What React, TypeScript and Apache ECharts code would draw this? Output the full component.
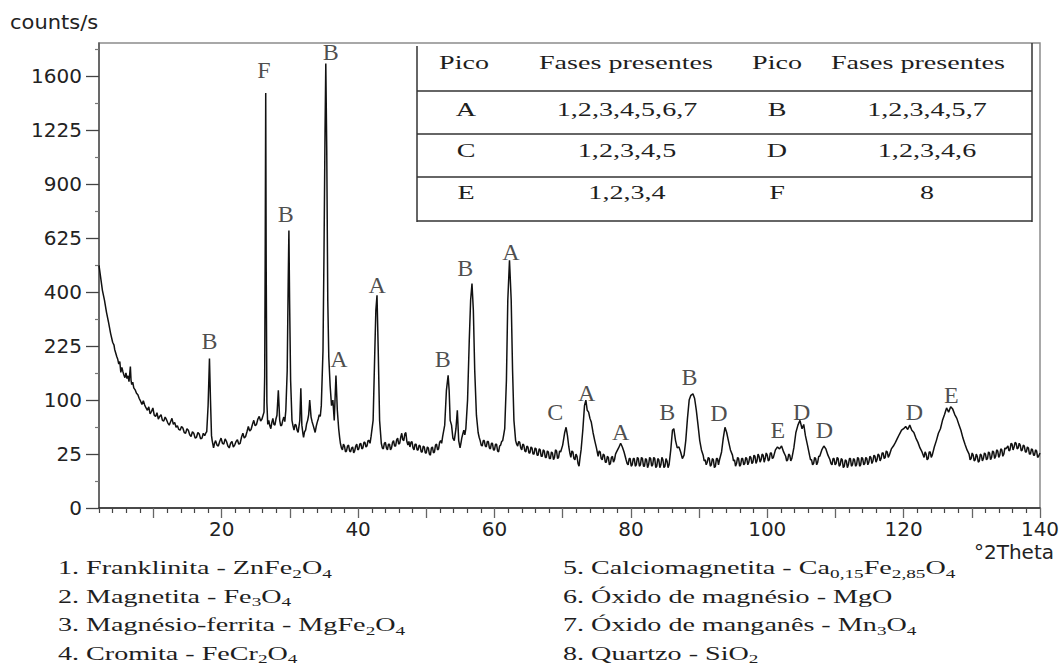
import React, { useEffect, useRef } from "react";
import * as echarts from "echarts";

// XRD trace: [°2Theta, counts/s]
const trace: [number, number][] = [
  [2.0,506],[2.2,465],[2.5,407],[2.8,371],[3.1,329],[3.4,296],[3.7,262],[4.0,236],[4.2,228],[4.3,216],[4.6,197],[4.75,190],[4.9,178],[5.05,184],[5.2,158],[5.35,170],[5.5,160],[5.65,152],[5.8,146],[5.95,157],[6.1,144],[6.25,150],[6.4,137],[6.6,172],[6.7,140],[6.8,131],[6.95,136],[7.1,124],[7.3,120],[7.5,113],[7.7,110],[7.9,103],[8.1,98],[8.3,92],[8.5,99],[8.7,91],[8.9,86],[9.1,82],[9.3,88],[9.5,76],[9.7,80],[9.9,86],[10.1,74],[10.3,72],[10.5,78],[10.7,68],[10.9,72],[11.1,75],[11.3,66],[11.5,65],[11.7,71],[11.9,67],[12.1,62],[12.3,59],[12.5,64],[12.7,69],[12.9,60],[13.1,63],[13.3,56],[13.5,58],[13.7,53],[13.9,52],[14.1,57],[14.3,55],[14.5,49],[14.7,48],[14.9,54],[15.1,52],[15.3,46],[15.5,44],[15.7,50],[15.9,48],[16.1,42],[16.3,43],[16.5,49],[16.7,47],[16.9,41],[17.1,42],[17.3,48],[17.5,45],[17.7,49],[17.8,50],[18.0,90],[18.2,192],[18.35,100],[18.5,45],[18.6,39],[18.8,31],[18.95,36],[19.1,39],[19.3,34],[19.5,33],[19.7,38],[19.9,42],[20.1,36],[20.3,35],[20.5,41],[20.7,38],[20.9,33],[21.1,31],[21.3,36],[21.5,38],[21.7,32],[21.9,34],[22.1,38],[22.3,40],[22.5,35],[22.7,36],[22.9,43],[23.1,48],[23.3,42],[23.5,44],[23.7,50],[23.9,57],[24.1,51],[24.3,53],[24.5,60],[24.7,66],[24.9,58],[25.1,60],[25.3,68],[25.5,72],[25.7,65],[25.9,68],[26.2,79],[26.3,150],[26.38,600],[26.45,1480],[26.52,500],[26.62,95],[26.75,60],[26.9,66],[27.05,58],[27.2,54],[27.35,63],[27.5,69],[27.65,60],[27.8,59],[27.95,68],[28.1,74],[28.3,119],[28.5,66],[28.65,58],[28.8,59],[28.95,66],[29.1,71],[29.25,64],[29.4,82],[29.6,162],[29.75,445],[29.85,662],[29.95,371],[30.1,140],[30.3,66],[30.45,58],[30.6,52],[30.75,60],[30.9,59],[31.05,52],[31.2,49],[31.45,66],[31.6,123],[31.75,59],[31.9,48],[32.0,43],[32.15,50],[32.3,52],[32.45,61],[32.6,66],[32.75,75],[32.9,100],[33.1,71],[33.25,64],[33.4,59],[33.55,54],[33.7,49],[33.85,57],[34.0,63],[34.15,68],[34.3,75],[34.45,72],[34.6,90],[34.85,213],[35.0,570],[35.15,1225],[35.26,1697],[35.4,1100],[35.55,371],[35.7,195],[35.9,128],[36.1,90],[36.3,100],[36.5,66],[36.75,151],[36.95,82],[37.15,54],[37.3,42],[37.4,36],[37.55,31],[37.7,29],[37.85,35],[38.0,33],[38.15,27],[38.3,28],[38.45,33],[38.6,34],[38.75,28],[38.9,27],[39.05,31],[39.2,32],[39.35,26],[39.5,28],[39.65,33],[39.8,35],[39.95,29],[40.1,30],[40.25,35],[40.4,36],[40.55,30],[40.7,31],[40.85,37],[41.0,37],[41.15,32],[41.3,33],[41.45,39],[41.6,39],[41.75,36],[41.9,44],[42.2,66],[42.45,213],[42.6,335],[42.77,389],[42.95,213],[43.15,66],[43.4,36],[43.55,31],[43.7,30],[43.85,36],[44.0,37],[44.15,31],[44.3,29],[44.45,35],[44.6,35],[44.75,29],[44.9,31],[45.05,37],[45.2,39],[45.35,33],[45.5,33],[45.65,40],[45.8,42],[45.95,35],[46.1,36],[46.25,43],[46.4,48],[46.55,40],[46.7,39],[46.85,47],[47.0,49],[47.15,38],[47.3,34],[47.45,38],[47.6,32],[47.75,37],[47.9,38],[48.05,31],[48.2,29],[48.35,35],[48.5,35],[48.65,29],[48.8,29],[48.95,34],[49.1,33],[49.25,27],[49.4,27],[49.55,33],[49.7,32],[49.85,26],[50.0,26],[50.15,32],[50.3,31],[50.45,25],[50.6,24],[50.75,31],[50.9,32],[51.05,26],[51.2,27],[51.35,34],[51.5,35],[51.65,29],[51.8,30],[51.95,37],[52.1,39],[52.25,36],[52.4,44],[52.7,59],[52.95,119],[53.2,151],[53.35,119],[53.5,66],[53.7,59],[53.9,42],[54.1,39],[54.35,54],[54.55,82],[54.75,39],[54.95,31],[55.1,37],[55.2,42],[55.35,47],[55.5,52],[55.65,46],[55.8,54],[56.05,100],[56.3,241],[56.5,371],[56.7,433],[56.9,335],[57.1,163],[57.35,74],[57.6,49],[57.75,43],[57.9,39],[58.05,34],[58.2,33],[58.35,39],[58.5,39],[58.65,33],[58.8,32],[58.95,38],[59.1,38],[59.25,31],[59.4,30],[59.55,36],[59.7,36],[59.85,29],[60.0,29],[60.15,35],[60.3,35],[60.45,28],[60.6,27],[60.75,33],[60.9,34],[61.05,38],[61.2,39],[61.35,46],[61.5,54],[61.75,140],[61.95,371],[62.2,527],[62.45,371],[62.65,163],[62.85,66],[63.1,39],[63.25,35],[63.4,33],[63.55,38],[63.7,37],[63.85,31],[64.0,29],[64.15,35],[64.3,34],[64.45,28],[64.6,27],[64.75,33],[64.9,32],[65.05,26],[65.2,26],[65.35,32],[65.5,31],[65.65,25],[65.8,25],[65.95,31],[66.1,30],[66.25,24],[66.4,24],[66.55,30],[66.7,29],[66.85,23],[67.0,23],[67.15,29],[67.3,28],[67.45,22],[67.6,22],[67.75,28],[67.9,27],[68.05,21],[68.2,21],[68.35,27],[68.5,26],[68.65,20],[68.8,22],[68.95,29],[69.1,28],[69.25,21],[69.4,22],[69.55,28],[69.7,27],[70.0,34],[70.3,49],[70.5,56],[70.7,45],[70.9,32],[71.05,26],[71.2,22],[71.35,28],[71.5,27],[71.65,21],[71.8,20],[71.95,25],[72.1,23],[72.25,17],[72.4,15],[72.55,22],[72.7,29],[72.95,52],[73.2,90],[73.4,100],[73.6,82],[73.8,79],[74.0,69],[74.2,63],[74.45,49],[74.7,39],[74.95,31],[75.1,26],[75.2,23],[75.35,28],[75.5,27],[75.65,21],[75.8,20],[75.95,25],[76.1,24],[76.25,18],[76.4,18],[76.55,23],[76.7,22],[76.85,16],[77.0,17],[77.15,22],[77.3,23],[77.45,18],[77.6,20],[77.75,25],[77.9,27],[78.2,31],[78.5,36],[78.75,32],[79.0,27],[79.3,20],[79.45,17],[79.6,16],[79.75,21],[79.9,21],[80.05,15],[80.2,16],[80.35,21],[80.5,21],[80.65,15],[80.8,16],[80.95,22],[81.1,21],[81.25,15],[81.4,16],[81.55,22],[81.7,21],[81.85,15],[82.0,15],[82.15,21],[82.3,20],[82.45,14],[82.6,16],[82.75,22],[82.9,21],[83.05,15],[83.2,16],[83.35,22],[83.5,21],[83.65,14],[83.8,15],[83.95,21],[84.1,20],[84.25,14],[84.4,16],[84.55,22],[84.7,20],[84.85,14],[85.0,15],[85.15,21],[85.3,19],[85.45,14],[85.6,16],[85.85,29],[86.1,52],[86.3,54],[86.55,39],[86.8,31],[87.05,32],[87.3,27],[87.55,21],[87.8,24],[88.05,39],[88.3,69],[88.55,100],[88.8,109],[89.1,112],[89.35,103],[89.6,82],[89.85,59],[90.1,39],[90.35,29],[90.6,24],[90.75,19],[90.9,20],[91.05,16],[91.2,18],[91.35,22],[91.5,21],[91.65,15],[91.8,16],[91.95,21],[92.1,20],[92.25,14],[92.4,15],[92.55,21],[92.7,21],[92.85,16],[93.0,20],[93.3,27],[93.55,42],[93.8,56],[94.05,49],[94.3,39],[94.6,29],[94.9,24],[95.05,19],[95.2,20],[95.35,15],[95.5,17],[95.65,22],[95.8,21],[95.95,15],[96.1,16],[96.25,21],[96.4,21],[96.55,16],[96.7,17],[96.85,22],[97.0,21],[97.15,16],[97.3,18],[97.45,23],[97.6,22],[97.75,17],[97.9,18],[98.05,24],[98.2,23],[98.35,17],[98.5,19],[98.65,25],[98.8,23],[98.95,18],[99.1,20],[99.25,25],[99.4,24],[99.55,18],[99.7,21],[99.85,26],[100.0,24],[100.15,19],[100.3,20],[100.45,26],[100.6,26],[100.75,21],[100.9,22],[101.2,29],[101.5,32],[101.8,30],[102.1,33],[102.4,27],[102.7,23],[102.85,19],[103.0,20],[103.15,25],[103.3,24],[103.45,19],[103.6,21],[103.9,31],[104.2,49],[104.5,59],[104.8,66],[105.1,54],[105.35,60],[105.6,45],[105.9,34],[106.2,24],[106.35,20],[106.5,20],[106.65,16],[106.8,17],[106.95,22],[107.1,21],[107.25,16],[107.4,18],[107.55,23],[107.7,23],[108.0,29],[108.3,33],[108.6,30],[108.9,24],[109.2,20],[109.35,17],[109.5,16],[109.65,21],[109.8,21],[109.95,16],[110.1,17],[110.25,22],[110.4,21],[110.55,15],[110.7,16],[110.85,21],[111.0,20],[111.15,14],[111.3,15],[111.45,20],[111.6,19],[111.75,14],[111.9,16],[112.05,21],[112.2,21],[112.35,15],[112.5,16],[112.65,21],[112.8,20],[112.95,15],[113.1,16],[113.25,22],[113.4,21],[113.55,15],[113.7,16],[113.85,22],[114.0,21],[114.15,16],[114.3,17],[114.45,22],[114.6,21],[114.75,16],[114.9,18],[115.05,23],[115.2,22],[115.35,17],[115.5,19],[115.65,24],[115.8,23],[115.95,18],[116.1,20],[116.25,25],[116.4,24],[116.55,19],[116.7,21],[116.85,26],[117.0,26],[117.15,21],[117.3,22],[117.45,28],[117.6,27],[117.75,22],[117.9,24],[118.2,30],[118.5,33],[118.8,37],[119.1,42],[119.4,47],[119.7,52],[120.0,54],[120.3,57],[120.6,53],[120.9,59],[121.2,52],[121.5,49],[121.8,42],[122.1,37],[122.4,31],[122.7,27],[123.0,22],[123.15,27],[123.3,25],[123.45,20],[123.6,21],[123.75,27],[123.9,27],[124.05,22],[124.2,24],[124.5,32],[124.8,39],[125.1,48],[125.4,54],[125.7,66],[126.0,75],[126.3,86],[126.6,79],[126.9,88],[127.2,84],[127.5,75],[127.8,69],[128.1,60],[128.4,52],[128.7,42],[129.0,35],[129.3,29],[129.6,25],[129.75,20],[129.9,21],[130.05,26],[130.2,24],[130.35,19],[130.5,20],[130.65,25],[130.8,23],[130.95,18],[131.1,19],[131.25,25],[131.4,24],[131.55,19],[131.7,21],[131.85,26],[132.0,25],[132.15,20],[132.3,21],[132.45,27],[132.6,26],[132.75,20],[132.9,22],[133.05,28],[133.2,27],[133.35,21],[133.5,23],[133.65,29],[133.8,28],[133.95,22],[134.1,24],[134.25,30],[134.4,29],[134.55,23],[134.7,25],[134.85,31],[135.0,30],[135.3,33],[135.45,28],[135.6,29],[135.75,36],[135.9,35],[136.05,29],[136.2,32],[136.35,37],[136.5,36],[136.65,30],[136.8,31],[136.95,36],[137.1,34],[137.25,28],[137.4,29],[137.55,34],[137.7,33],[137.85,27],[138.0,27],[138.15,32],[138.3,31],[138.45,25],[138.6,25],[138.75,30],[138.9,29],[139.05,24],[139.2,24],[139.35,29],[139.5,28],[139.65,22],[139.8,23],[140.0,26]
];

// peak letters: [letter, °2Theta, counts/s at label centre]
const peakLabels: [string, number, number][] = [
  ["B", 18.2, 241], ["F", 26.2, 1646], ["B", 29.4, 745], ["B", 36.0, 1786],
  ["A", 37.2, 192], ["A", 42.8, 426], ["B", 52.4, 192], ["B", 55.7, 494],
  ["A", 62.4, 563], ["C", 68.9, 79], ["A", 73.5, 113], ["A", 78.5, 50],
  ["B", 85.35, 79], ["B", 88.6, 147], ["D", 92.9, 77], ["E", 101.55, 52],
  ["D", 105.05, 79], ["D", 108.4, 52], ["D", 121.6, 79], ["E", 127.0, 109]
];

const yTickCounts = [0, 25, 100, 225, 400, 625, 900, 1225, 1600];
const yMinorCounts = [6.25, 56.25, 156.25, 306.25, 506.25, 756.25, 1056.25, 1406.25, 1806.25];
const xTickLabels = [20, 40, 60, 80, 100, 120, 140];
const xMajorTicks = [10, 20, 30, 40, 50, 60, 70, 80, 90, 100, 110, 120, 130, 140];
const xMinorTicks = [2, 4, 6, 8, 12, 14, 16, 18, 22, 24, 26, 28, 32, 34, 36, 38, 42, 44, 46, 48, 52, 54, 56, 58, 62, 64, 66, 68, 72, 74, 76, 78, 82, 84, 86, 88, 92, 94, 96, 98, 102, 104, 106, 108, 112, 114, 116, 118, 122, 124, 126, 128, 132, 134, 136, 138];

const tableHeader = ["Pico", "Fases presentes", "Pico", "Fases presentes"];
const tableRows = [
  ["A", "1,2,3,4,5,6,7", "B", "1,2,3,4,5,7"],
  ["C", "1,2,3,4,5", "D", "1,2,3,4,6"],
  ["E", "1,2,3,4", "F", "8"]
];

const phasesLeft = [
  "1. Franklinita - ZnFe{s|2}O{s|4}",
  "2. Magnetita - Fe{s|3}O{s|4}",
  "3. Magnésio-ferrita - MgFe{s|2}O{s|4}",
  "4. Cromita - FeCr{s|2}O{s|4}"
];
const phasesRight = [
  "5. Calciomagnetita - Ca{s|0,15}Fe{s|2,85}O{s|4}",
  "6. Óxido de magnésio - MgO",
  "7. Óxido de manganês - Mn{s|3}O{s|4}",
  "8. Quartzo - SiO{s|2}"
];

const SERIF = "Liberation Serif";
const SANS = "DejaVu Sans";
const SX = 1.48;

function serifText(x: number, y: number, text: string, align: string) {
  return {
    type: "text",
    x,
    y,
    scaleX: SX,
    silent: true,
    style: {
      text,
      fontFamily: SERIF,
      fontSize: 19,
      lineHeight: 20,
      fill: "#1e1e1e",
      align,
      verticalAlign: "middle",
      rich: {
        s: { fontFamily: SERIF, fontSize: 13, lineHeight: 24, verticalAlign: "bottom", fill: "#1e1e1e" }
      }
    }
  };
}

export default function App() {
  const ref = useRef<HTMLDivElement>(null);

  useEffect(() => {
    if (!ref.current) return;
    const chart = echarts.init(ref.current, undefined, { renderer: "svg" });

    const tableColX = [464, 626, 777, 918];
    const tableDataColX = [466, 627, 777, 927];
    const rowY = [110, 151, 193];
    const graphics: any[] = [
      { type: "text", x: 10, y: 22, scaleX: 1.05, silent: true, style: { text: "counts/s", fontFamily: SANS, fontSize: 20, fill: "#222", verticalAlign: "middle" } },
      { type: "text", x: 1054, y: 552, silent: true, style: { text: "°2Theta", fontFamily: SANS, fontSize: 20, fill: "#222", align: "right", verticalAlign: "middle" } },
      // table frame
      { type: "line", silent: true, shape: { x1: 417, y1: 46, x2: 417, y2: 222 }, style: { stroke: "#333", lineWidth: 1.5 } },
      { type: "line", silent: true, shape: { x1: 1032, y1: 43, x2: 1032, y2: 222 }, style: { stroke: "#333", lineWidth: 1.5 } },
      ...[91, 134, 177, 221].map((y) => ({ type: "line", silent: true, shape: { x1: 417, y1: y, x2: 1032, y2: y }, style: { stroke: "#333", lineWidth: 1.5 } }))
    ];
    tableHeader.forEach((t, i) => graphics.push(serifText(tableColX[i], 63, t, "center")));
    tableRows.forEach((row, r) => row.forEach((t, i) => graphics.push(serifText(tableDataColX[i], rowY[r], t, "center"))));
    phasesLeft.forEach((t, i) => graphics.push(serifText(58, 568 + i * 28.5, t, "left")));
    phasesRight.forEach((t, i) => graphics.push(serifText(563, 568 + i * 28.5, t, "left")));

    chart.setOption({
      animation: false,
      backgroundColor: "#ffffff",
      grid: { left: 99, right: 23, top: 43, bottom: 158, show: true, borderColor: "#8c8c8c", borderWidth: 1.5 },
      xAxis: [
        {
          type: "value", min: 2, max: 140, position: "bottom",
          axisLine: { show: true, lineStyle: { color: "#2a2a2a", width: 1.5 } },
          axisTick: { show: true, customValues: xMajorTicks, length: 10, lineStyle: { color: "#666", width: 1.3 } },
          axisLabel: { customValues: xTickLabels, margin: 11, fontFamily: SANS, fontSize: 20, color: "#222" },
          splitLine: { show: false }
        },
        {
          type: "value", min: 2, max: 140, position: "bottom",
          axisLine: { show: false },
          axisTick: { show: true, customValues: xMinorTicks, length: 5, lineStyle: { color: "#444", width: 1.2 } },
          axisLabel: { show: false },
          splitLine: { show: false }
        }
      ],
      yAxis: [
        {
          type: "value", min: 0, max: 43.1, position: "left",
          axisLine: { show: true, lineStyle: { color: "#555", width: 1.5 } },
          axisTick: { show: true, customValues: yTickCounts.map((c) => Math.sqrt(c)), length: 13, lineStyle: { color: "#444", width: 1.3 } },
          axisLabel: {
            customValues: yTickCounts.map((c) => Math.sqrt(c)),
            formatter: (v: number) => String(Math.round(v * v)),
            margin: 17, fontFamily: SANS, fontSize: 20, color: "#222"
          },
          splitLine: { show: false }
        },
        {
          type: "value", min: 0, max: 43.1, position: "left",
          axisLine: { show: false },
          axisTick: { show: true, customValues: yMinorCounts.map((c) => Math.sqrt(c)), length: 4, lineStyle: { color: "#777", width: 1.2 } },
          axisLabel: { show: false },
          splitLine: { show: false }
        }
      ],
      series: [
        {
          type: "line",
          data: trace.map(([x, c]) => [x, Math.sqrt(c)]),
          showSymbol: false,
          symbol: "none",
          silent: true,
          lineStyle: { color: "#111", width: 1.5 },
          xAxisIndex: 0,
          yAxisIndex: 0
        },
        {
          type: "scatter",
          data: peakLabels.map(([l, x, c]) => ({ name: l, value: [x, Math.sqrt(c)] })),
          symbolSize: 0,
          silent: true,
          label: { show: true, position: "inside", formatter: "{b}", fontFamily: SERIF, fontSize: 24, color: "#1e1e1e" },
          xAxisIndex: 0,
          yAxisIndex: 0
        }
      ],
      graphic: graphics
    });

    return () => chart.dispose();
  }, []);

  return <div ref={ref} style={{ position: "fixed", left: 0, top: 0, width: 1063, height: 666, background: "#fff" }} />;
}
